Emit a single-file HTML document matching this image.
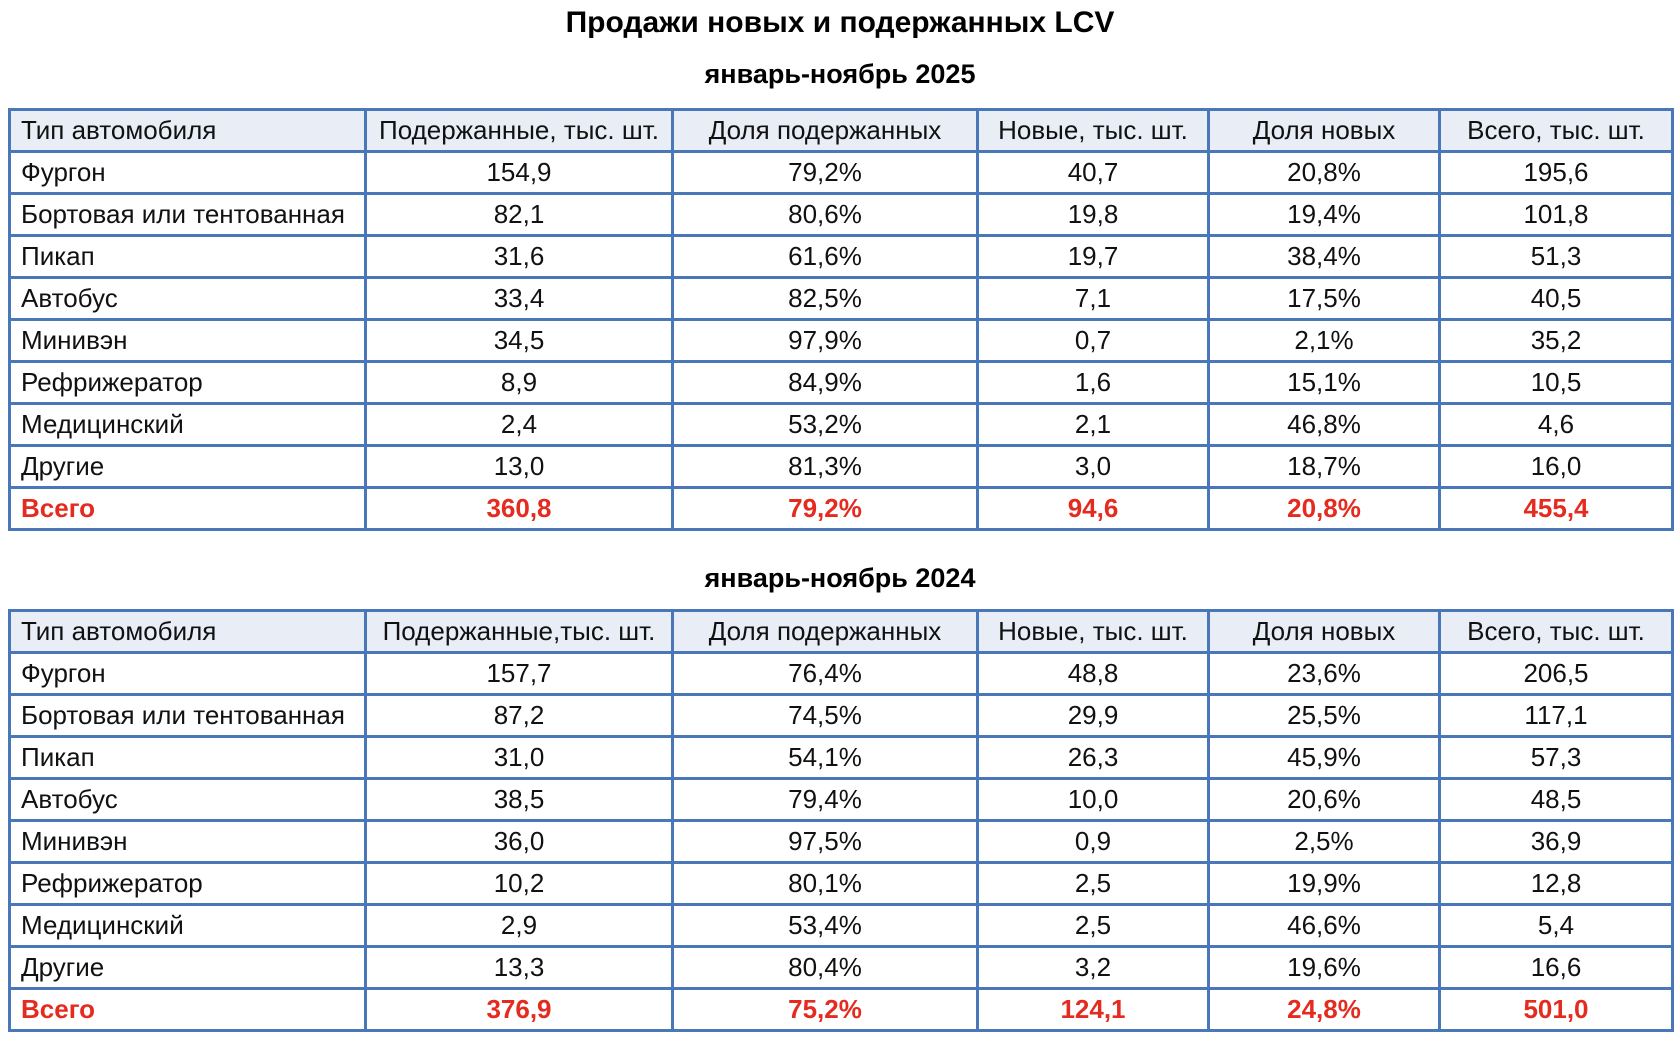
<!DOCTYPE html>
<html><head><meta charset="utf-8">
<style>
html,body{margin:0;padding:0;background:#fff;width:1680px;height:1050px;overflow:hidden;font-family:"Liberation Sans",sans-serif;}
.t{position:absolute;left:0;width:1680px;text-align:center;font-weight:bold;color:#000;}
table{position:absolute;left:8px;width:1663px;border-collapse:collapse;table-layout:fixed;}
td{border:3px solid #4a77b7;height:39px;padding:0;font-size:26px;text-align:center;color:#111;line-height:39px;white-space:nowrap;box-sizing:border-box;}
td.n{text-align:left;padding-left:10px;}
tr.h td{background:#e8edf6;}
tr.tot td{color:#e52b1f;font-weight:bold;}
</style></head><body>
<div class="t" style="top:6px;font-size:30px;">Продажи новых и подержанных LCV</div>
<div class="t" style="top:59px;font-size:27px;">январь-ноябрь 2025</div>
<div class="t" style="top:563px;font-size:27px;">январь-ноябрь 2024</div>
<table id="t1" style="top:108px;"></table>
<table id="t2" style="top:609px;"></table>
<script>
const headers1=["Тип автомобиля","Подержанные, тыс. шт.","Доля подержанных","Новые, тыс. шт.","Доля новых","Всего, тыс. шт."];
const headers2=["Тип автомобиля","Подержанные,тыс. шт.","Доля подержанных","Новые, тыс. шт.","Доля новых","Всего, тыс. шт."];
const types=["Фургон","Бортовая или тентованная","Пикап","Автобус","Минивэн","Рефрижератор","Медицинский","Другие","Всего"];
const used2025=["154,9","82,1","31,6","33,4","34,5","8,9","2,4","13,0","360,8"];
const usedShare2025=["79,2%","80,6%","61,6%","82,5%","97,9%","84,9%","53,2%","81,3%","79,2%"];
const new2025=["40,7","19,8","19,7","7,1","0,7","1,6","2,1","3,0","94,6"];
const newShare2025=["20,8%","19,4%","38,4%","17,5%","2,1%","15,1%","46,8%","18,7%","20,8%"];
const total2025=["195,6","101,8","51,3","40,5","35,2","10,5","4,6","16,0","455,4"];
const used2024=["157,7","87,2","31,0","38,5","36,0","10,2","2,9","13,3","376,9"];
const usedShare2024=["76,4%","74,5%","54,1%","79,4%","97,5%","80,1%","53,4%","80,4%","75,2%"];
const new2024=["48,8","29,9","26,3","10,0","0,9","2,5","2,5","3,2","124,1"];
const newShare2024=["23,6%","25,5%","45,9%","20,6%","2,5%","19,9%","46,6%","19,6%","24,8%"];
const total2024=["206,5","117,1","57,3","48,5","36,9","12,8","5,4","16,6","501,0"];
const widths=[356,307,305,231,231,233];
function build(id,headers,cols){
  const t=document.getElementById(id);
  const cg=document.createElement('colgroup');
  widths.forEach(w=>{const c=document.createElement('col');c.style.width=w+'px';cg.appendChild(c);});
  t.appendChild(cg);
  const hr=document.createElement('tr');hr.className='h';
  
  
  headers.forEach((h,i)=>{const td=document.createElement('td');td.textContent=h;if(i==0)td.className='n';
    
    
    hr.appendChild(td);});
  t.appendChild(hr);
  types.forEach((ty,r)=>{
    const tr=document.createElement('tr');
    if(r==types.length-1)tr.className='tot';
    
    
    const vals=[ty].concat(cols.map(c=>c[r]));
    vals.forEach((v,i)=>{const td=document.createElement('td');td.textContent=v;if(i==0)td.className='n';
      
      
      tr.appendChild(td);});
    t.appendChild(tr);
  });
}
build('t1',headers1,[used2025,usedShare2025,new2025,newShare2025,total2025]);
build('t2',headers2,[used2024,usedShare2024,new2024,newShare2024,total2024]);
</script>
</body></html>
